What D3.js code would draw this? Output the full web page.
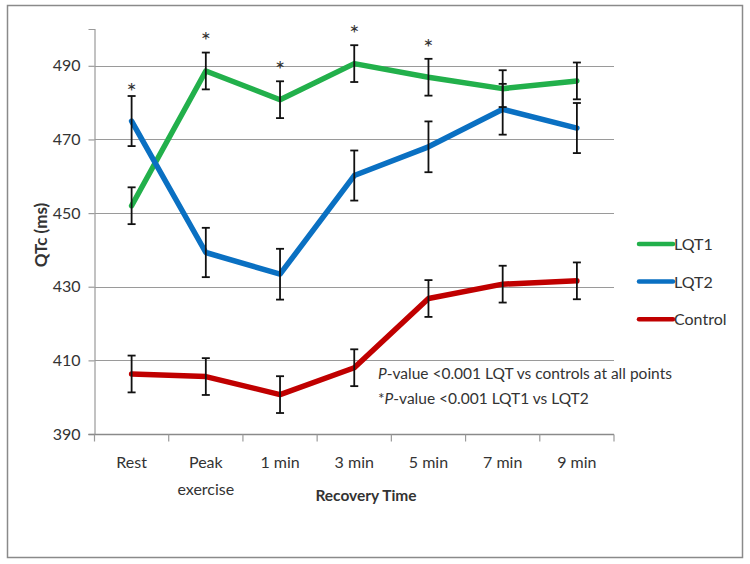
<!DOCTYPE html>
<html>
<head>
<meta charset="utf-8">
<script src="https://cdn.jsdelivr.net/npm/d3@7"></script>
<style>
  html, body { margin: 0; padding: 0; background: #fff; }
  svg { display: block; }
  text { font-family: "Lato", "Open Sans", sans-serif; fill: #333; }
</style>
</head>
<body>
<svg id="chart" width="750" height="564"></svg>
<script>
// ---- data ----
const categories = ["Rest", "Peak exercise", "1 min", "3 min", "5 min", "7 min", "9 min"];
const categoryLines = [["Rest"], ["Peak", "exercise"], ["1 min"], ["3 min"], ["5 min"], ["7 min"], ["9 min"]];
const yTicks = [390, 410, 430, 450, 470, 490];

const lqt1 = [452.0, 488.6, 480.8, 490.6, 486.9, 483.8, 485.9];
const lqt1Err = [5, 5, 5, 5, 5, 5, 5];
const lqt2 = [475.0, 439.3, 433.4, 460.2, 468.0, 478.2, 473.1];
const lqt2Err = [6.8, 6.7, 6.9, 6.8, 6.9, 6.9, 6.8];
const control = [406.3, 405.6, 400.7, 408.0, 426.8, 430.7, 431.6];
const controlErr = [5, 5, 5, 5, 5, 5, 5];

const seriesNames = ["LQT1", "LQT2", "Control"];
const seriesColors = ["#22b04b", "#0a70c2", "#c00000"];
const asteriskValues = [484.0, 497.7, 490.0, 499.6, 496.0, null, null];
const annotations = [
  [{t: "P", italic: true}, {t: "-value <0.001 LQT vs controls at all points"}],
  [{t: "*"}, {t: "P", italic: true}, {t: "-value <0.001 LQT1 vs LQT2"}]
];

// ---- chart ----
const svg = d3.select("#chart");
const plot = {left: 94.5, right: 614, top: 29, bottom: 434};

svg.append("rect").attr("x", 7.5).attr("y", 5.5).attr("width", 735).attr("height", 552)
  .attr("fill", "#fff").attr("stroke", "#8a8a8a").attr("stroke-width", 1.5);

const x = d3.scaleBand().domain(categories).range([plot.left, plot.right]).padding(0);
const cx = c => x(c) + x.bandwidth() / 2;
const y = d3.scaleLinear().domain([390, 500]).range([plot.bottom, plot.top]);

// gridlines
svg.append("g").selectAll("line").data(yTicks.filter(t => t !== 390)).join("line")
  .attr("x1", plot.left).attr("x2", plot.right)
  .attr("y1", d => Math.round(y(d)) + 0.5).attr("y2", d => Math.round(y(d)) + 0.5)
  .attr("stroke", "#9a9a9a").attr("stroke-width", 1.2);

// y axis
const yAxis = svg.append("g").attr("transform", `translate(${plot.left},0)`)
  .call(d3.axisLeft(y).tickValues(yTicks).tickSize(6).tickPadding(8).tickFormat(d3.format("d")));
yAxis.select(".domain").attr("stroke", "#9a9a9a").attr("stroke-width", 1.2);
yAxis.selectAll(".tick line").attr("stroke", "#9a9a9a").attr("stroke-width", 1.2);
yAxis.selectAll(".tick text").attr("font-size", 16).attr("fill", "#333")
  .attr("font-family", "Lato, sans-serif");

// x axis
const xAxis = svg.append("g").attr("transform", `translate(0,${Math.round(y(390)) + 0.5})`);
xAxis.append("line").attr("x1", plot.left - 6).attr("x2", plot.right)
  .attr("stroke", "#8a8a8a").attr("stroke-width", 1.5);
const boundaries = categories.map(c => x(c)).concat([plot.right]);
xAxis.selectAll("line.tk").data(boundaries).join("line").attr("class", "tk")
  .attr("x1", d => d).attr("x2", d => d).attr("y1", 0).attr("y2", 7)
  .attr("stroke", "#9a9a9a").attr("stroke-width", 1.2);
const xl = svg.append("g").selectAll("text").data(categories).join("text")
  .attr("text-anchor", "middle").attr("font-size", 16)
  .attr("x", d => cx(d)).attr("y", 468);
xl.each(function(d, i) {
  const t = d3.select(this);
  categoryLines[i].forEach((ln, j) => {
    t.append("tspan").attr("x", cx(d)).attr("dy", j === 0 ? 0 : 27).text(ln);
  });
});

// axis titles
svg.append("text").attr("x", 366).attr("y", 501).attr("text-anchor", "middle")
  .attr("font-size", 15.5).attr("font-weight", "bold").attr("fill", "#111").text("Recovery Time");
svg.append("text").attr("transform", "translate(47,235) rotate(-90)").attr("text-anchor", "middle")
  .attr("font-size", 17).attr("font-weight", "bold").attr("fill", "#111").text("QTc (ms)");

// series
const allSeries = [
  {name: seriesNames[0], values: lqt1, err: lqt1Err, color: seriesColors[0]},
  {name: seriesNames[1], values: lqt2, err: lqt2Err, color: seriesColors[1]},
  {name: seriesNames[2], values: control, err: controlErr, color: seriesColors[2]}
];
const line = d3.line().x((d, i) => cx(categories[i])).y(d => y(d));
allSeries.forEach(s => {
  svg.append("path").datum(s.values).attr("d", line).attr("fill", "none")
    .attr("stroke", s.color).attr("stroke-width", 5.5)
    .attr("stroke-linejoin", "round").attr("stroke-linecap", "round");
});
// error bars
allSeries.forEach(s => {
  const g = svg.append("g").attr("stroke", "#111").attr("stroke-width", 1.8);
  s.values.forEach((v, i) => {
    const px = cx(categories[i]);
    const top = y(v + s.err[i]), bot = y(v - s.err[i]);
    g.append("line").attr("x1", px).attr("x2", px).attr("y1", top).attr("y2", bot);
    g.append("line").attr("x1", px - 4).attr("x2", px + 4).attr("y1", top).attr("y2", top);
    g.append("line").attr("x1", px - 4).attr("x2", px + 4).attr("y1", bot).attr("y2", bot);
  });
});

// asterisks
svg.append("g").selectAll("text").data(asteriskValues.map((v, i) => ({v, c: categories[i]})).filter(d => d.v !== null))
  .join("text").attr("text-anchor", "middle").attr("font-size", 24).attr("fill", "#444")
  .attr("font-family", "DejaVu Sans, sans-serif")
  .attr("x", d => cx(d.c)).attr("y", d => y(d.v) + 12).text("*");

// annotation
annotations.forEach((parts, k) => {
  const t = svg.append("text").attr("x", 378).attr("y", 379 + k * 25).attr("font-size", 15.5).attr("fill", "#333");
  parts.forEach(p => t.append("tspan").attr("font-style", p.italic ? "italic" : "normal").text(p.t));
});

// legend
const leg = svg.append("g");
allSeries.forEach((s, i) => {
  const ly = 244 + i * 37.6;
  leg.append("line").attr("x1", 639).attr("x2", 673).attr("y1", ly).attr("y2", ly)
    .attr("stroke", s.color).attr("stroke-width", 4.5).attr("stroke-linecap", "round");
  leg.append("text").attr("x", 674).attr("y", ly + 6).attr("font-size", 16).attr("fill", "#333").text(s.name);
});
</script>
</body>
</html>
